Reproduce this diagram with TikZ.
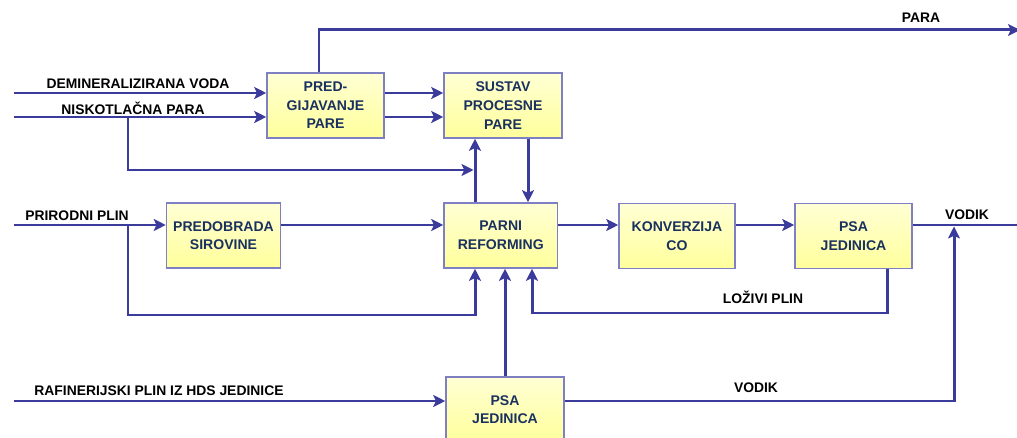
\documentclass[tikz,border=0pt]{standalone}
\usepackage{fontspec}
\setsansfont{Liberation Sans}
\usepackage{tikz}
\usetikzlibrary{arrows.meta, positioning}
\definecolor{plava}{HTML}{3B3B9B}
\definecolor{okvir}{HTML}{7F7FC4}
\definecolor{tamnoplava}{HTML}{1A3160}
\definecolor{zutagore}{HTML}{FFFFD4}
\definecolor{zutadolje}{HTML}{FFFF9C}
\tikzset{
  every picture/.style={font=\sffamily, >=Stealth},
  jedinica/.style={draw=okvir, line width=0.9pt, top color=zutagore, bottom color=zutadolje,
              text=tamnoplava, inner sep=0pt, minimum height=1.3cm,
              font=\sffamily\fontsize{8}{10.6}\selectfont\bfseries, align=center},
  oznaka/.style={text=black, inner sep=0pt, font=\sffamily\fontsize{7.9}{9}\selectfont\bfseries},
  vod/.style={plava, line width=1.7pt},
  strelica/.style={vod, -{Stealth[length=6.8pt, width=6.8pt, inset=1.5pt]}},
}

\begin{document}
\begin{tikzpicture}[x=0.02cm, y=-0.02cm]
  \useasboundingbox (0,0) rectangle (1017,438);
  % jedinice
  \node[jedinica, minimum width=2.34cm] (pred) at (325.5,105.5) {PRED-\\GIJAVANJE\\PARE};
  \node[jedinica, minimum width=2.36cm] (sustav) at (503,105.5) {SUSTAV\\PROCESNE\\PARE};
  \node[jedinica, minimum width=2.28cm] (predob) at (223.5,235.5) {PREDOBRADA\\SIROVINE};
  \node[jedinica, minimum width=2.27cm] (parni) at (500.75,235.5) {PARNI\\REFORMING};
  \node[jedinica, minimum width=2.32cm] (konv) at (677,236) {KONVERZIJA\\CO};
  \node[jedinica, minimum width=2.34cm] (psa1) at (853.5,236) {PSA\\JEDINICA};
  \node[jedinica, minimum width=2.36cm] (psa2) at (505,409.5) {PSA\\JEDINICA};
  % tocke
  \coordinate (demi) at (14,93);
  \coordinate (nisko) at (14,117);
  \coordinate (prir) at (14,225);
  \coordinate (rafi) at (14,401);
  \coordinate (parax) at (319,30);
  \coordinate (para) at (1020,30);
  \coordinate (vodik) at (1017,225);
  \coordinate (grana1) at (128,117);
  \coordinate (grana2) at (128,225);
  \coordinate (uspon) at (475,170);
  \coordinate (dno) at (475,315);
  \coordinate (silaz) at (528,170);
  \coordinate (lozivi) at (887,313);
  \coordinate (lozivi2) at (532,313);
  \coordinate (spoj) at (954,225);
  % tokovi
  \draw[strelica] (pred.north -| parax) -- (parax) -- (para);
  \draw[strelica] (demi) -- (demi -| pred.west);
  \draw[strelica] (nisko) -- (nisko -| pred.west);
  \draw[strelica] (pred.east |- demi) -- (sustav.west |- demi);
  \draw[strelica] (pred.east |- nisko) -- (sustav.west |- nisko);
  \draw[strelica, shorten >=0.85pt] (grana1) |- (uspon);
  \draw[strelica] (parni.north -| uspon) -- (sustav.south -| uspon);
  \draw[strelica] (sustav.south -| silaz) -- (parni.north -| silaz);
  \draw[strelica] (prir) -- (prir -| predob.west);
  \draw[strelica] (predob.east |- prir) -- (parni.west |- prir);
  \draw[strelica] (grana2) |- (dno) -- (parni.south -| dno);
  \draw[strelica] (psa2.north) -- (parni.south -| psa2.north);
  \draw[strelica] (parni.east |- prir) -- (konv.west |- prir);
  \draw[strelica] (konv.east |- prir) -- (psa1.west |- prir);
  \draw[vod] (psa1.east |- prir) -- (vodik);
  \draw[strelica] (psa1.south -| lozivi) -- (lozivi) -- (lozivi2) -- (parni.south -| lozivi2);
  \draw[strelica] (rafi) -- (rafi -| psa2.west);
  \draw[strelica, shorten >=0.85pt] (psa2.east |- rafi) -| (spoj);
  % oznake
  \node[oznaka] (lpara) at (921,18) {PARA};
  \node[oznaka] (ldemi) at (138,84) {DEMINERALIZIRANA VODA};
  \node[oznaka] (lnisko) at (133,108) {NISKOTLAČNA PARA};
  \node[oznaka] (lprir) at (77,216) {PRIRODNI PLIN};
  \node[oznaka] (lrafi) at (159,391) {RAFINERIJSKI PLIN IZ HDS JEDINICE};
  \node[oznaka] (lvodik1) at (967,215) {VODIK};
  \node[oznaka] (lvodik2) at (756,388) {VODIK};
  \node[oznaka] (llozivi) at (763,297) {LOŽIVI PLIN};
\end{tikzpicture}
\end{document}
